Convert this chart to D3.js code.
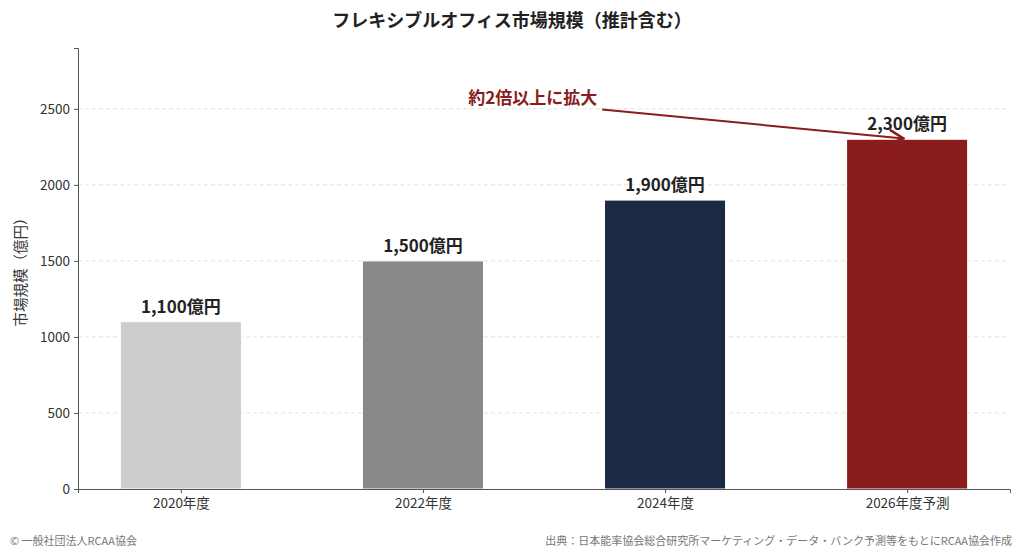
<!DOCTYPE html>
<html>
<head>
<meta charset="utf-8">
<script src="https://d3js.org/d3.v7.min.js"></script>
<style>
  body { margin: 0; background: #fff; }
  text { font-family: "Noto Sans CJK JP", "Noto Sans", sans-serif; }
</style>
</head>
<body>
<script>
// data
const categories = ["2020年度", "2022年度", "2024年度", "2026年度予測"]
const values = [1100, 1500, 1900, 2300]
const valueLabels = ["1,100億円", "1,500億円", "1,900億円", "2,300億円"]
const barColors = ["#cccccc", "#888888", "#1b2a42", "#8b1c1c"]
const yTicks = [0, 500, 1000, 1500, 2000, 2500]
// annotation in data coordinates: text at [x, y], arrow to [x, y]
const noteText = "約2倍以上に拡大"
const noteAt = [1.72, 2535]
const arrowFrom = [1.74, 2495]
const arrowTo = [2.985, 2305]

const width = 1024, height = 557
const svg = d3.select("body").append("svg")
    .attr("width", width)
    .attr("height", height)

const x = d3.scaleLinear().domain([-0.425, 3.425]).range([78, 1010])
const y = d3.scaleLinear().domain([0, 2900]).range([489, 48])

// title
svg.append("text")
    .attr("x", 512).attr("y", 27)
    .attr("text-anchor", "middle")
    .style("font-size", "18px").style("font-weight", "bold").style("fill", "#222")
    .text("フレキシブルオフィス市場規模（推計含む）")

// grid
svg.append("g").selectAll("line")
    .data(yTicks.filter(d => d > 0))
    .enter().append("line")
    .attr("x1", x(-0.425)).attr("x2", x(3.425))
    .attr("y1", d => y(d)).attr("y2", d => y(d))
    .attr("stroke", "#e2e2e2").attr("stroke-dasharray", "4,3")

// bars
svg.append("g").selectAll("rect")
    .data(values)
    .enter().append("rect")
    .attr("x", (d, i) => x(i - 0.25))
    .attr("width", x(0.5) - x(0))
    .attr("y", d => y(d))
    .attr("height", d => y(0) - y(d))
    .attr("fill", (d, i) => barColors[i])
    .attr("stroke", "#fff").attr("stroke-width", 1)

// value labels
svg.append("g").selectAll("text")
    .data(values)
    .enter().append("text")
    .attr("x", (d, i) => x(i))
    .attr("y", d => y(d) - 9)
    .attr("text-anchor", "middle")
    .style("font-size", "17px").style("font-weight", "bold").style("fill", "#222")
    .text((d, i) => valueLabels[i])

// axes
const yAxis = svg.append("g")
    .attr("transform", `translate(${x(-0.425)},0)`)
    .call(d3.axisLeft(y).tickValues(yTicks).tickFormat(d3.format("d")).tickSize(4).tickPadding(4))
yAxis.select(".domain").attr("stroke", "#555")
yAxis.selectAll(".tick line").attr("stroke", "#555")
yAxis.selectAll("text").style("font-size", "13.5px").style("fill", "#333")
    .style("font-family", "'Noto Sans CJK JP', sans-serif")

const xAxis = svg.append("g")
    .attr("transform", `translate(0,${y(0)})`)
    .call(d3.axisBottom(x).tickValues([0, 1, 2, 3]).tickFormat(i => categories[i]).tickSize(4).tickPadding(5))
xAxis.select(".domain").attr("stroke", "#555")
xAxis.selectAll(".tick line").attr("stroke", "#555")
xAxis.selectAll("text").style("font-size", "13.5px").style("fill", "#333")
    .style("font-family", "'Noto Sans CJK JP', sans-serif")

// y label
svg.append("text")
    .attr("transform", `translate(26,${(y(0) + y(2900)) / 2}) rotate(-90)`)
    .attr("text-anchor", "middle")
    .style("font-size", "14.5px").style("fill", "#333")
    .text("市場規模（億円）")

// annotation
svg.append("defs").append("marker")
    .attr("id", "ah").attr("viewBox", "0 0 10 10")
    .attr("refX", 9).attr("refY", 5)
    .attr("markerWidth", 9).attr("markerHeight", 9)
    .attr("orient", "auto")
    .append("path").attr("d", "M1,1 L9,5 L1,9")
    .attr("fill", "none").attr("stroke", "#8b1c1c").attr("stroke-width", 1.4)

svg.append("line")
    .attr("x1", x(arrowFrom[0])).attr("y1", y(arrowFrom[1]))
    .attr("x2", x(arrowTo[0])).attr("y2", y(arrowTo[1]))
    .attr("stroke", "#8b1c1c").attr("stroke-width", 2)
    .attr("marker-end", "url(#ah)")

svg.append("text")
    .attr("x", x(noteAt[0])).attr("y", y(noteAt[1]))
    .attr("text-anchor", "end")
    .style("font-size", "17px").style("font-weight", "bold").style("fill", "#8b1c1c")
    .text(noteText)

// footer
svg.append("text")
    .attr("x", 10).attr("y", 545)
    .style("font-size", "11px").style("fill", "#777")
    .text("© 一般社団法人RCAA協会")
svg.append("text")
    .attr("x", 1012).attr("y", 545)
    .attr("text-anchor", "end")
    .style("font-size", "11px").style("fill", "#777")
    .text("出典：日本能率協会総合研究所マーケティング・データ・バンク予測等をもとにRCAA協会作成")
</script>
</body>
</html>
